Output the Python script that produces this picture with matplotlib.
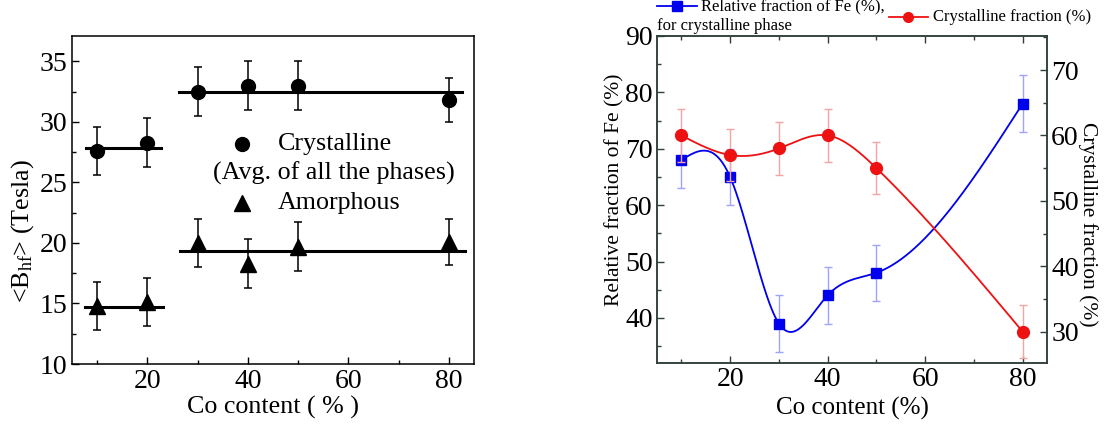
import numpy as np
import matplotlib
matplotlib.use('Agg')
import matplotlib.pyplot as plt
from matplotlib.ticker import MultipleLocator

plt.rcParams['font.family'] = ['Liberation Serif', 'DejaVu Serif']
plt.rcParams['mathtext.fontset'] = 'custom'
plt.rcParams['mathtext.rm'] = 'Liberation Serif'
plt.rcParams['mathtext.it'] = 'Liberation Serif:italic'

# ---- left panel data ----
co = [10, 20, 30, 40, 50, 80]
bhf_cryst = [27.6, 28.3, 32.5, 33.0, 33.0, 31.8]
bhf_cryst_err = [2.0, 2.0, 2.0, 2.0, 2.0, 1.8]
bhf_amor = [14.8, 15.1, 20.0, 18.3, 19.7, 20.1]
bhf_amor_err = [2.0, 2.0, 2.0, 2.0, 2.0, 1.9]
# horizontal guide lines: (x start, x end, level)
cryst_fits = [(7.8, 22.7, 27.85), (26.3, 82.7, 32.45)]
amor_fits = [(7.6, 23.2, 14.75), (26.5, 83.3, 19.3)]

# ---- right panel data ----
fe_frac = [68, 65, 39, 44, 48, 78]
fe_frac_err = [5, 5, 5, 5, 5, 5]
cryst_frac = [60, 57, 58, 60, 55, 30]
cryst_frac_err = [4, 4, 4, 4, 4, 4]


def natural_spline(x, y, n=300):
    """Smooth connecting curve through the points (Origin-style spline line)"""
    x = np.asarray(x, float)
    y = np.asarray(y, float)
    k = len(x)
    h = np.diff(x)
    A = np.zeros((k, k))
    b = np.zeros(k)
    A[0, 0] = A[-1, -1] = 1
    for i in range(1, k - 1):
        A[i, i - 1] = h[i - 1]
        A[i, i] = 2 * (h[i - 1] + h[i])
        A[i, i + 1] = h[i]
        b[i] = 6 * ((y[i + 1] - y[i]) / h[i] - (y[i] - y[i - 1]) / h[i - 1])
    M = np.linalg.solve(A, b)
    xs = np.linspace(x[0], x[-1], n)
    idx = np.clip(np.searchsorted(x, xs) - 1, 0, k - 2)
    x0, x1 = x[idx], x[idx + 1]
    hh = x1 - x0
    t1 = x1 - xs
    t0 = xs - x0
    ys = (M[idx] * t1 ** 3 + M[idx + 1] * t0 ** 3) / (6 * hh) \
        + (y[idx] / hh - M[idx] * hh / 6) * t1 \
        + (y[idx + 1] / hh - M[idx + 1] * hh / 6) * t0
    return xs, ys


fig = plt.figure(figsize=(11.18, 4.30), dpi=100)
tick_fs = 20
lab_fs = 18.7

# ================= left panel =================
ax1 = fig.add_axes([72 / 1118, 1 - 364 / 430, (474 - 72) / 1118, (364 - 36) / 430])
ax1.errorbar(co, bhf_cryst, yerr=bhf_cryst_err, fmt='o', color='black', ms=10,
             capsize=3.2, elinewidth=1.1, capthick=1.1)
ax1.errorbar(co, bhf_amor, yerr=bhf_amor_err, fmt='^', color='black', ms=11,
             capsize=3.2, elinewidth=1.1, capthick=1.1)
for x0, x1, lvl in cryst_fits + amor_fits:
    ax1.plot([x0, x1], [lvl, lvl], color='black', lw=2.2)

ax1.set_xlim(5, 85)
ax1.set_ylim(10, 37.1)
ax1.set_xticks([20, 40, 60, 80])
ax1.xaxis.set_minor_locator(MultipleLocator(10))
ax1.set_yticks([10, 15, 20, 25, 30, 35])
ax1.yaxis.set_minor_locator(MultipleLocator(2.5))
ax1.tick_params(which='both', direction='in', top=False, right=False,
                labelsize=tick_fs)
ax1.tick_params(which='major', length=5, width=1)
ax1.tick_params(which='minor', length=3, width=1)
ax1.set_xlabel('Co content ( % )', fontsize=lab_fs, va='center')
ax1.xaxis.set_label_coords(0.5, -0.134)
ax1.set_ylabel(r'<B$_{\rm hf}$> (Tesla)', fontsize=lab_fs, va='center')
ax1.yaxis.set_label_coords(-0.124, 0.405)
for s in ax1.spines.values():
    s.set_linewidth(1.1)

# legend drawn as markers and text in data coordinates
ax1.plot([38.8], [28.2], 'o', color='black', ms=10)
ax1.text(46.0, 28.2, 'Crystalline', fontsize=lab_fs, va='center')
ax1.text(33.1, 25.75, '(Avg. of all the phases)', fontsize=lab_fs, va='center')
ax1.plot([38.8], [23.3], '^', color='black', ms=11)
ax1.text(46.0, 23.3, 'Amorphous', fontsize=lab_fs, va='center')

# ================= right panel =================
ax2 = fig.add_axes([657 / 1118, 1 - 363 / 430, (1047 - 657) / 1118, (363 - 36) / 430])
ax3 = ax2.twinx()

blue = '#0000ee'
red = '#ee1111'
bx, by = natural_spline(co, fe_frac)
ax2.plot(bx, by, color=blue, lw=1.3, zorder=2)
ax2.errorbar(co, fe_frac, yerr=fe_frac_err, fmt='s', color=blue, ms=7.5,
             ecolor='#9fa3ff', capsize=3.2, elinewidth=1, capthick=1, zorder=3)

rx, ry = natural_spline(co, cryst_frac)
ax3.plot(rx, ry, color=red, lw=1.3, zorder=2)
ax3.errorbar(co, cryst_frac, yerr=cryst_frac_err, fmt='o', color=red, ms=8.5,
             ecolor='#f4a4a4', capsize=3.2, elinewidth=1, capthick=1, zorder=3)

ax2.set_xlim(5, 85)
ax2.set_ylim(32, 90)
ax3.set_ylim(25.2, 75.2)
ax2.set_xticks([20, 40, 60, 80])
ax2.xaxis.set_minor_locator(MultipleLocator(10))
ax2.set_yticks([40, 50, 60, 70, 80, 90])
ax2.yaxis.set_minor_locator(MultipleLocator(5))
ax3.set_yticks([30, 40, 50, 60, 70])
ax3.yaxis.set_minor_locator(MultipleLocator(5))
spine_col = '#2f3f3a'
ax2.tick_params(which='both', direction='in', top=True, labelsize=tick_fs,
                color=spine_col, pad=3)
ax2.tick_params(axis='y', right=False)
ax3.tick_params(which='both', direction='in', labelsize=tick_fs, color=spine_col,
                pad=3)
for a in (ax2, ax3):
    a.tick_params(which='major', length=5, width=1)
    a.tick_params(which='minor', length=3, width=1)
    for s in a.spines.values():
        s.set_color(spine_col)
        s.set_linewidth(1.1)
ax2.set_xlabel('Co content (%)', fontsize=lab_fs - 0.7, va='center')
ax2.xaxis.set_label_coords(0.5, -0.138)
ax2.set_ylabel('Relative fraction of Fe (%)', fontsize=15.5, va='center')
ax2.yaxis.set_label_coords(-0.108, 0.53)
ax3.set_ylabel('Crystalline fraction (%)', fontsize=15.5, rotation=-90,
               va='center')
ax3.yaxis.set_label_coords(1.105, 0.425)

# legend above the right panel
leg_fs = 12
fig.add_artist(plt.Line2D([657 / 1118, 697 / 1118], [1 - 6 / 430] * 2,
                          color=blue, lw=1.3))
fig.add_artist(plt.Line2D([677 / 1118], [1 - 6 / 430], color=blue,
                          marker='s', ms=6.5, ls='none'))
fig.text(701 / 1118, 1 - 6 / 430, 'Relative fraction of Fe (%),', fontsize=leg_fs,
         va='center')
fig.text(657 / 1118, 1 - 26 / 430, 'for crystalline phase', fontsize=leg_fs,
         va='center')
fig.add_artist(plt.Line2D([889 / 1118, 928 / 1118], [1 - 17 / 430] * 2,
                          color=red, lw=1.3))
fig.add_artist(plt.Line2D([908 / 1118], [1 - 17 / 430], color=red,
                          marker='o', ms=7, ls='none'))
fig.text(933 / 1118, 1 - 17 / 430, 'Crystalline fraction (%)', fontsize=leg_fs,
         va='center')

fig.savefig('out.png', dpi=100)
